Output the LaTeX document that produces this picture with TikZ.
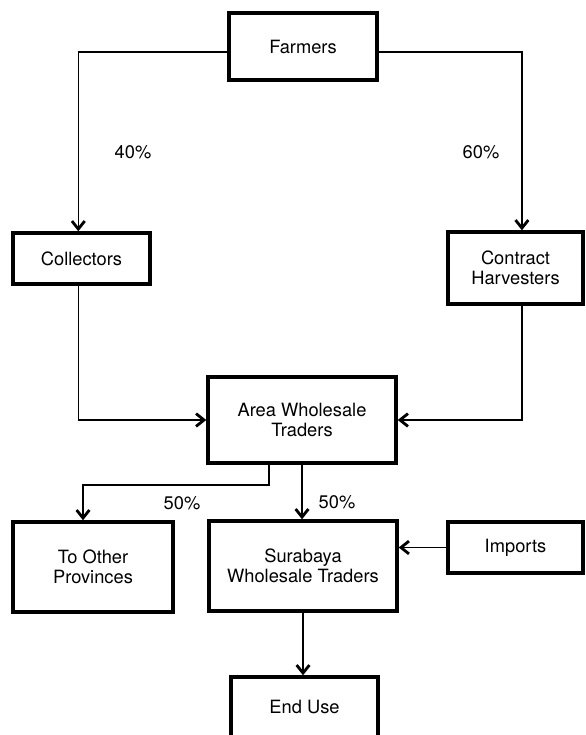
\documentclass[tikz,border=0pt]{standalone}
\usepackage{fontspec}
\setmainfont{TeX Gyre Heros}
\usetikzlibrary{arrows.meta}

\begin{document}
\begin{tikzpicture}[x=0.025cm, y=-0.025cm]
						\tikzstyle{box}=[draw=black, line width=2.4pt, align=center, font=\fontsize{13}{14.4}\selectfont]
						\tikzstyle{flow}=[line width=1pt, -{Straight Barb[length=2mm, width=3.2mm, line width=2pt]}]
						\tikzstyle{share}=[font=\fontsize{13}{14.4}\selectfont]
						\useasboundingbox (0,0) rectangle (585,735);
						\path (303,46.5)  node[box, minimum width=3.7cm, minimum height=1.675cm] (farmers) {Farmers};
						\path (81.5,258.5) node[box, minimum width=3.425cm, minimum height=1.275cm] (collectors) {Collectors};
						\path (515.5,268) node[box, minimum width=3.375cm, minimum height=1.8cm] (harvesters) {Contract\\Harvesters};
						\path (302,420)   node[box, minimum width=4.7cm, minimum height=2.15cm] (area) {Area Wholesale\\Traders};
						\path (93,567)    node[box, minimum width=4cm, minimum height=2.25cm] (other) {To Other\\Provinces};
						\path (303,566)   node[box, minimum width=4.7cm, minimum height=2.25cm] (surabaya) {Surabaya\\Wholesale Traders};
						\path (515.5,547.5) node[box, minimum width=3.375cm, minimum height=1.275cm] (imports) {Imports};
						\path (304.5,707) node[box, minimum width=3.675cm, minimum height=1.5cm] (enduse) {End Use};
						\coordinate (bend) at (83,485);
						\draw[flow] ([yshift=-0.14cm]farmers.west) -| ([xshift=-0.08cm]collectors.north);
						\draw[flow] ([yshift=-0.14cm]farmers.east) -| ([xshift=0.16cm]harvesters.north);
						\draw[flow] ([xshift=-0.08cm]collectors.south) |- (area.west);
						\draw[flow] ([xshift=0.16cm]harvesters.south) |- (area.east);
						\draw[flow] ([xshift=-0.825cm]area.south) |- (bend) -- (bend |- other.north);
						\draw[flow] (area.south) -- (area.south |- surabaya.north);
						\draw[flow] (imports.west) -- (imports.west -| surabaya.east);
						\draw[flow] (surabaya.south) -- (surabaya.south |- enduse.north);
						\path (133,152) node[share] (p40) {40\%};
						\path (481,152) node[share] (p60) {60\%};
						\path (182,503) node[share] (p50a) {50\%};
						\path (337,502) node[share] (p50b) {50\%};
\end{tikzpicture}
\end{document}
